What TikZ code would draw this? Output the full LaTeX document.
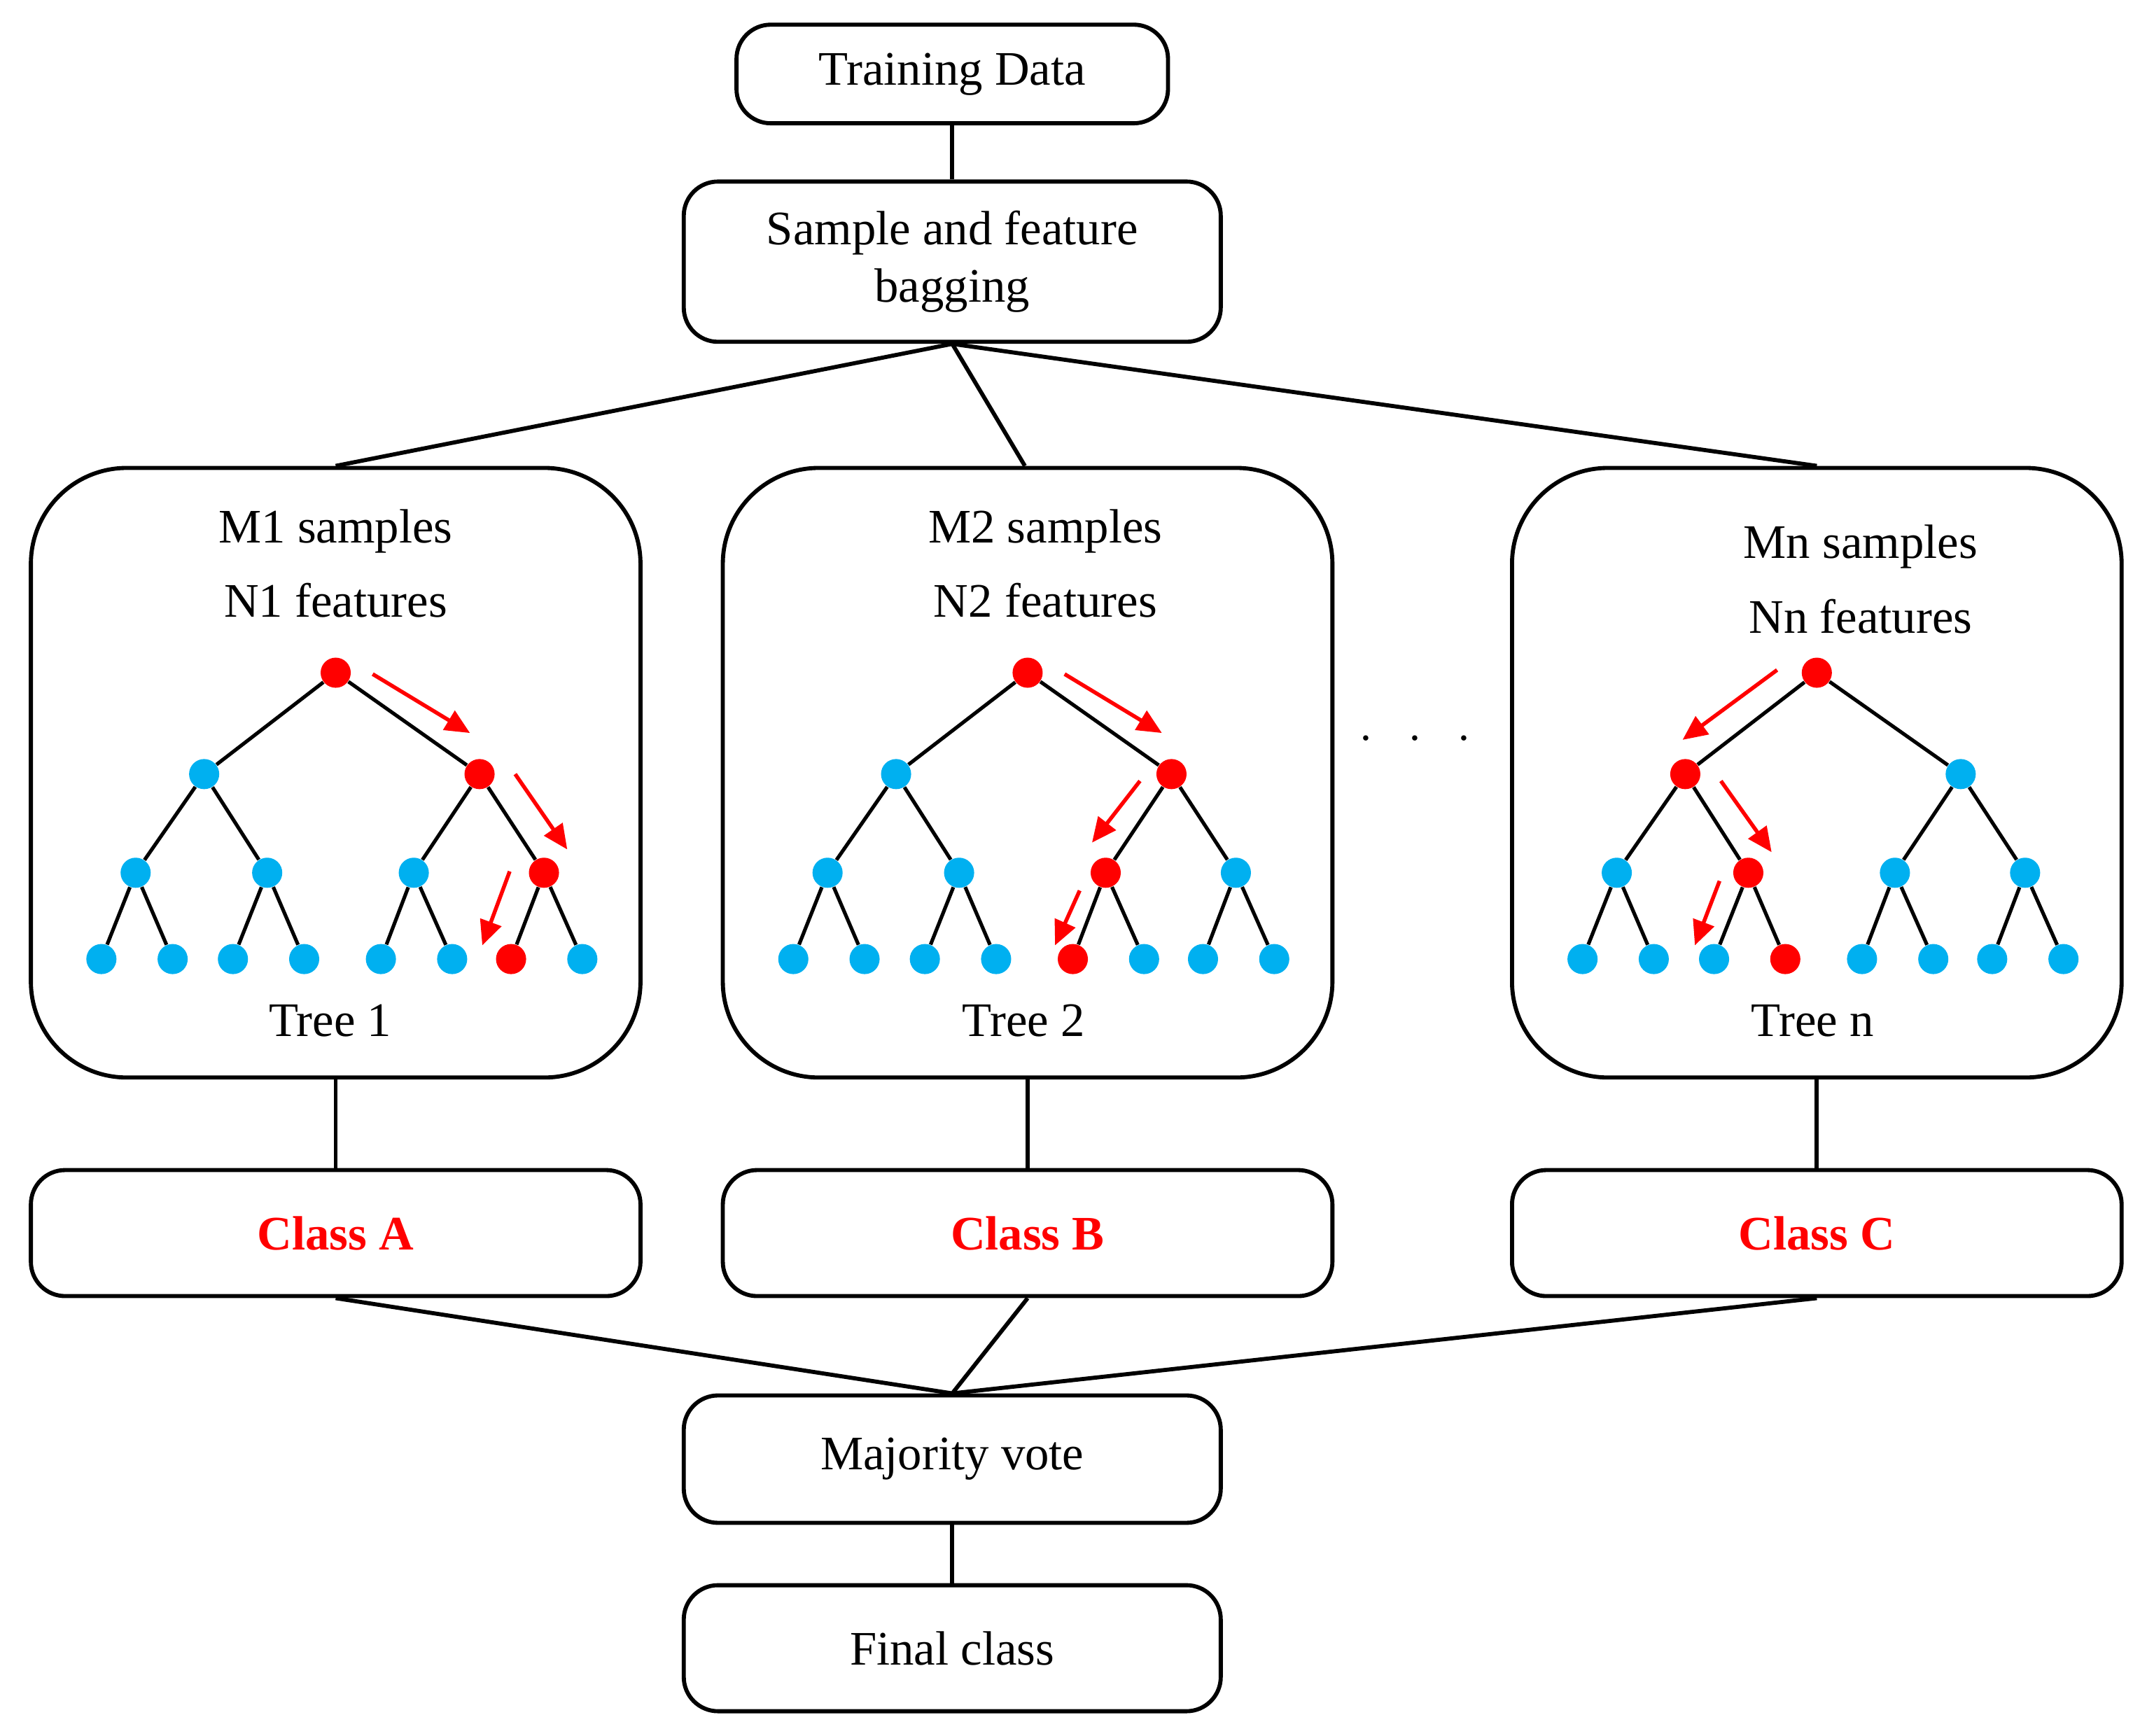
\documentclass[tikz,border=0pt]{standalone}
\usepackage{fontspec}
\setmainfont{Liberation Serif}
\usetikzlibrary{arrows.meta,positioning}
\definecolor{nodeblue}{RGB}{0,176,240}
\tikzset{
	box/.style={
		rectangle, draw=black, line width=1.7pt, rounded corners=5mm,
		align=center, font=\fontsize{20}{24}\selectfont
	},
	%
	treebox/.style={
		rectangle, draw=black, line width=1.7pt, rounded corners=14mm,
		minimum width=8.9cm, minimum height=8.9cm
	},
	%
	bnode/.style={circle, fill=nodeblue, inner sep=0pt, minimum size=4.4mm},
	rnode/.style={circle, fill=red, inner sep=0pt, minimum size=4.4mm},
	%
	edge/.style={line width=1.5pt},
	link/.style={line width=1.7pt},
	redarrow/.style={red, line width=1.6pt, -{Triangle[length=3.6mm,width=3.2mm]}},
	label/.style={font=\fontsize{20}{24}\selectfont, align=center},
	classlabel/.style={font=\fontsize{20}{24}\selectfont\bfseries, text=red}
}
% tree: name, root x, red child on level 1, level 2, leaves
\newcommand{\rftree}[5]{
 \begin{scope}[shift={(#2,491)}]
  \node[rnode] (#1-0) at (0,0) {};
  \foreach \k/\x in {1/-96,2/105}{
    \ifnum\k=#3 \def\st{rnode}\else\def\st{bnode}\fi
    \node[\st] (#1-1\k) at (\x,74) {};
    \draw[edge] (#1-1\k) -- (#1-0);
  }
  \foreach \k/\x/\p in {1/-146/1,2/-50/1,3/57/2,4/152/2}{
    \ifnum\k=#4 \def\st{rnode}\else\def\st{bnode}\fi
    \node[\st] (#1-2\k) at (\x,146) {};
    \draw[edge] (#1-2\k) -- (#1-1\p);
  }
  \foreach \k/\x/\p in {1/-171/1,2/-119/1,3/-75/2,4/-23/2,5/33/3,6/85/3,7/128/4,8/180/4}{
    \ifnum\k=#5 \def\st{rnode}\else\def\st{bnode}\fi
    \node[\st] (#1-3\k) at (\x,209) {};
    \draw[edge] (#1-3\k) -- (#1-2\p);
  }
 \end{scope}
}

\begin{document}
\begin{tikzpicture}[x=0.02cm, y=-0.02cm]
\useasboundingbox (0,0) rectangle (1567,1267);

\node(train)[box, minimum width=6.3cm, minimum height=1.44cm] at (695,54) {Training Data};
\node(bag)[box, minimum width=7.84cm, minimum height=2.34cm] at (695,191) {Sample and feature\\bagging};

\node(t1)[treebox] at (245,564) {};
\node(t2)[treebox] at (750,564) {};
\node(tn)[treebox] at (1326,564) {};

\node[label] at (245,388) {M1 samples};
\node[label] at (245,438) {N1 features};
\node[label] at (241,745) {Tree 1};
\node[label] at (763,388) {M2 samples};
\node[label] at (763,438) {N2 features};
\node[label] at (747,745) {Tree 2};
\node[label] at (1358,399) {Mn samples};
\node[label] at (1358,450) {Nn features};
\node[label] at (1323,745) {Tree n};
\node(dots)[label] at (1033,540) {$\cdot\ \ \cdot\ \ \cdot$};

\rftree{a}{245}{2}{4}{7}
\rftree{b}{750}{2}{3}{5}
\rftree{c}{1326}{1}{2}{4}

\draw[redarrow] (272,492) -- (343,535);
\draw[redarrow] (376,565) -- (414,620);
\draw[redarrow] (372,636) -- (352,690);
\draw[redarrow] (777,492) -- (848,535);
\draw[redarrow] (832,570) -- (797,615);
\draw[redarrow] (788,650) -- (770,690);
\draw[redarrow] (1297,489) -- (1228,540);
\draw[redarrow] (1256,570) -- (1293,622);
\draw[redarrow] (1255,643) -- (1237,690);

\node(ca)[box, minimum width=8.9cm, minimum height=1.84cm] at (245,900) {};
\node[classlabel] at (ca) {Class A};
\node(cb)[box, minimum width=8.9cm, minimum height=1.84cm] at (750,900) {};
\node[classlabel] at (cb) {Class B};
\node(cc)[box, minimum width=8.9cm, minimum height=1.84cm] at (1326,900) {};
\node[classlabel] at (cc) {Class C};

\node(vote)[box, minimum width=7.84cm, minimum height=1.86cm] at (695,1065) {Majority vote};
\node(final)[box, minimum width=7.84cm, minimum height=1.84cm] at (695,1203) {Final class};

\draw[link] (train) -- (bag);
\draw[link] (bag.south) -- (t1.north);
\draw[link] (bag.south) -- ([xshift=-0.04cm]t2.north);
\draw[link] (bag.south) -- (tn.north);
\draw[link] (t1) -- (ca);
\draw[link] (t2) -- (cb);
\draw[link] (tn) -- (cc);
\draw[link] (ca.south) -- (vote.north);
\draw[link] (cb.south) -- (vote.north);
\draw[link] (cc.south) -- (vote.north);
\draw[link] (vote) -- (final);
\end{tikzpicture}
\end{document}
